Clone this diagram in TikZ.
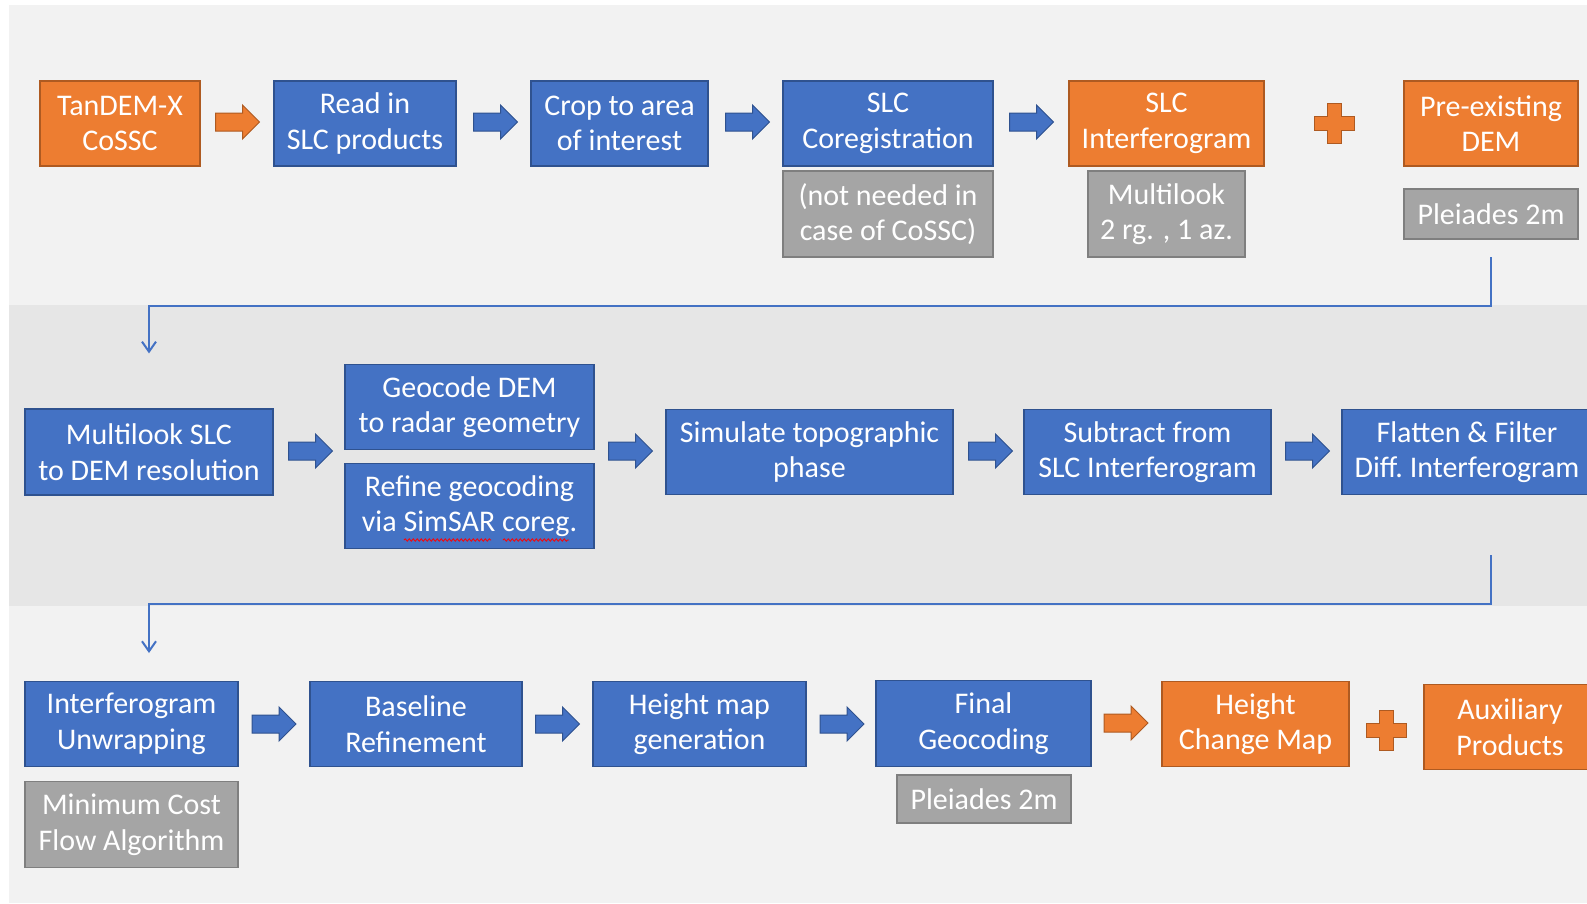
\documentclass[tikz,border=0pt]{standalone}
\usepackage{fontspec}
\setmainfont{Carlito}
\usepackage{tikz}
\usetikzlibrary{shapes,arrows,positioning,calc,arrows.meta,decorations.pathmorphing}

\definecolor{boxblue}{HTML}{4472C4}
\definecolor{boxblueline}{HTML}{2F528F}
\definecolor{boxorange}{HTML}{ED7D31}
\definecolor{boxorangeline}{HTML}{AE5A21}
\definecolor{boxgray}{HTML}{A5A5A5}
\definecolor{boxgrayline}{HTML}{7F7F7F}
\definecolor{bandlight}{HTML}{F2F2F2}
\definecolor{banddark}{HTML}{E6E6E6}

\tikzset{
  box/.style={draw, line width=1.2pt, text=white, align=center, inner sep=0pt,
    minimum height=85pt, font=\fontsize{30}{35.5}\selectfont},
  bluebox/.style={box, fill=boxblue, draw=boxblueline},
  orangebox/.style={box, fill=boxorange, draw=boxorangeline},
  graybox/.style={box, fill=boxgray, draw=boxgrayline},
  blockarrow/.style={single arrow, line width=1pt, minimum height=44pt, minimum width=0pt,
    single arrow head extend=8pt, single arrow head indent=0pt,
    inner xsep=0pt, inner ysep=8.5pt},
  bluearrow/.style={blockarrow, fill=boxblue, draw=boxblueline},
  orangearrow/.style={blockarrow, fill=boxorange, draw=boxorangeline},
  link/.style={draw=boxblue, line width=2pt, -{Straight Barb[length=10pt,width=14pt]}},
  plussign/.pic={
    \draw[fill=boxorange, draw=boxorangeline, line width=1pt]
      (-7,-20) -- (7,-20) -- (7,-7) -- (20,-7) -- (20,7) -- (7,7) -- (7,20)
      -- (-7,20) -- (-7,7) -- (-20,7) -- (-20,-7) -- (-7,-7) -- cycle;
  },
  squiggle/.style={draw=red, line width=0.8pt,
    decorate, decoration={snake, amplitude=1.2pt, segment length=4pt}}
}

\begin{document}
\begin{tikzpicture}[x=1pt, y=-1pt]
    % Background bands
    \fill[white] (0,0) rectangle (1587,903);
    \fill[bandlight] (9,5) rectangle (1587,305);
    \fill[banddark] (9,305) rectangle (1587,606);
    \fill[bandlight] (9,606) rectangle (1587,903);
    \useasboundingbox (0,0) rectangle (1587,903);

    % Row 1: input and coregistration
    \node[orangebox, minimum width=160pt] (tandem) at (120,123.5) {TanDEM-X\\CoSSC};
    \node[orangearrow] (a1) at (233,122) {};
    \node[bluebox, minimum width=182pt] (readin) at (365,123.5) {Read in\\SLC products};
    \node[bluearrow] (a2) at (491,122) {};
    \node[bluebox, minimum width=177pt] (crop) at (619.5,123.5) {Crop to area\\of interest};
    \node[bluearrow] (a3) at (743,122) {};
    \node[bluebox, minimum width=210pt] (coreg) at (888,123.5) {SLC\\Coregistration};
    \node[graybox, minimum width=210pt, minimum height=86pt] (coregnote) at (888,214) {(not needed in\\case of CoSSC)};
    \node[bluearrow] (a4) at (1027,122) {};
    \node[orangebox, minimum width=195pt] (ifg) at (1166.5,123.5) {SLC\\Interferogram};
    \node[graybox, minimum width=157pt, minimum height=86pt] (ifgnote) at (1166.5,214) {Multilook\\2 rg. , 1 az.};
    \pic at (1334,123) {plussign};
    \node[orangebox, minimum width=174pt] (dem) at (1491,123.5) {Pre-existing\\DEM};
    \node[graybox, minimum width=174pt, minimum height=50pt] (demnote) at (1491,214) {Pleiades 2m};

    % Row 2: DEM simulation
    \node[bluebox, minimum width=248pt, minimum height=86pt] (mlslc) at (149,452) {Multilook SLC\\to DEM resolution};
    \node[bluearrow] (a5) at (306,451) {};
    \node[bluebox, minimum width=249pt] (geodem) at (469.5,407) {Geocode DEM\\to radar geometry};
    \node[bluebox, minimum width=249pt] (refine) at (469.5,506) {Refine geocoding\\via SimSAR coreg.};
    \node[bluearrow] (a6) at (626,451) {};
    \node[bluebox, minimum width=287pt] (simul) at (809.5,452) {Simulate topographic\\phase};
    \node[bluearrow] (a7) at (986,451) {};
    \node[bluebox, minimum width=247pt] (subtr) at (1147.5,452) {Subtract from\\SLC Interferogram};
    \node[bluearrow] (a8) at (1303,451) {};
    \node[bluebox, minimum width=250pt] (flat) at (1467,452) {Flatten \& Filter\\Diff.\ Interferogram};

    % Row 3: unwrapping and products
    \node[bluebox, minimum width=213pt] (unwrap) at (131.5,724) {Interferogram\\Unwrapping};
    \node[graybox, minimum width=213pt, minimum height=86pt] (unwrapnote) at (131.5,824.5) {Minimum Cost\\Flow Algorithm};
    \node[bluearrow] (a9) at (269.5,724) {};
    \node[bluebox, minimum width=212pt] (baseline) at (416,724) {Baseline\\Refinement};
    \node[bluearrow] (a10) at (553,724) {};
    \node[bluebox, minimum width=213pt] (hmap) at (699.5,724) {Height map\\generation};
    \node[bluearrow] (a11) at (837.5,724) {};
    \node[bluebox, minimum width=215pt, minimum height=86pt] (final) at (983.5,723.5) {Final\\Geocoding};
    \node[graybox, minimum width=174pt, minimum height=48pt] (finalnote) at (984,799) {Pleiades 2m};
    \node[orangearrow] (a12) at (1121.5,723) {};
    \node[orangebox, minimum width=187pt] (hcm) at (1255.5,724) {Height\\Change Map};
    \pic at (1386.5,730.5) {plussign};
    \node[orangebox, minimum width=172pt] (aux) at (1510,727) {Auxiliary\\Products};

    % Row links
    \coordinate (c1) at (1491,257);
    \coordinate (c2) at (1491,555);
    \coordinate (c2end) at (149,653);
    \draw[link] (c1) -- (1491,306) -| ([yshift=55pt]mlslc.north);
    \draw[link] (c2) -- (1491,604) -| (c2end);

    % Spell check marks
    \draw[squiggle] (404,540) -- (491,540);
    \draw[squiggle] (503,540) -- (569,540);
\end{tikzpicture}
\end{document}
